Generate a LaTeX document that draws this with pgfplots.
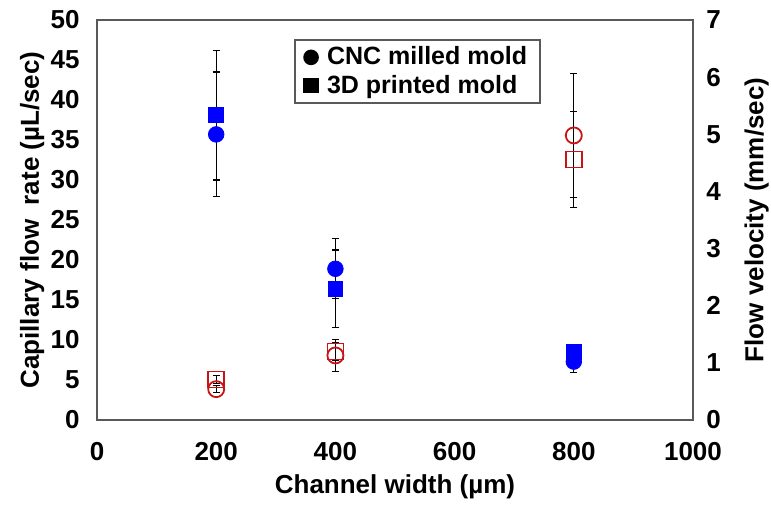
\documentclass[border=0pt]{standalone}
\usepackage{pgfplots}
\pgfplotsset{compat=1.18}
\usepackage{fontspec}
\setmainfont{Liberation Sans}
\definecolor{axgray}{RGB}{89,89,89}
\definecolor{myred}{RGB}{200,20,20}
\definecolor{myblue}{RGB}{0,0,255}
\begin{document}
\begin{tikzpicture}
\path[use as bounding box] (-48.5pt,-42pt) rectangle (337pt,210pt);
\pgfplotsset{
 common/.style={
  scale only axis, width=298pt, height=200pt,
  xmin=0, xmax=1000,
  major tick length=0pt,
  axis line style={axgray, line width=0.8pt},
  tick label style={font=\fontsize{13}{15}\selectfont\bfseries, inner sep=0pt},
  /pgf/number format/assume math mode=true,
  /pgf/number format/1000 sep={},
  label style={font=\fontsize{13}{15}\selectfont\bfseries},
 },
 ebar/.style={draw=none, mark=none, forget plot,
  error bars/.cd, y dir=both, y explicit,
  error bar style={draw=black, line width=0.6pt},
  error mark options={rotate=90, draw=black, mark size=1.8pt, line width=0.6pt}},
}
\begin{axis}[common,
  ymin=0, ymax=50, ytick={0,5,...,50}, xtick={0,200,...,1000},
  xticklabel style={anchor=center, yshift=-16pt},
  yticklabel style={anchor=east, xshift=-8.5pt},
  xlabel={Channel width (µm)},
  ylabel={Capillary flow~~rate (µL/sec)},
  xlabel style={at={(axis description cs:0.5,-0.1675)}, anchor=center},
  ylabel style={at={(axis description cs:-0.109,0.5)}, anchor=center},
  legend style={at={(axis description cs:0.331,0.9525)}, anchor=north west,
    draw=axgray, line width=0.8pt, fill=white,
    font=\fontsize{12.5}{14}\selectfont\bfseries,
    inner xsep=4.5pt, inner ysep=2pt, row sep=0.5pt,
    nodes={inner ysep=1.5pt},
    /tikz/every odd column/.append style={column sep=2.5pt},
    cells={anchor=west}},
  legend image code/.code={\path[#1] plot coordinates {(3.5pt,0pt)};},
]
\addplot[ebar] coordinates {(200,38.1) +- (0,8.1) (400,16.4) +- (0,4.85) (800,8.5) +- (0,0.6)};
\addplot[ebar] coordinates {(200,35.7) +- (0,7.8) (400,18.9) +- (0,3.75) (800,7.3) +- (0,1.4)};
\addplot[only marks, mark=square*, mark size=3.7pt, draw=myblue, fill=myblue, forget plot]
  coordinates {(200,38.1) (400,16.4) (800,8.5)};
\addplot[only marks, mark=*, mark size=3.9pt, draw=myblue, fill=myblue, forget plot]
  coordinates {(200,35.7) (400,18.9) (800,7.3)};
\addlegendimage{only marks, mark=*, black, mark size=3.5pt}
\addlegendentry{CNC milled mold}
\addlegendimage{only marks, mark=square*, black, mark size=3.4pt}
\addlegendentry{3D printed mold}
\end{axis}
\begin{axis}[common,
  ymin=0, ymax=7, ytick={0,1,...,7},
  hide x axis,
  axis y line*=right,
  yticklabel style={anchor=west, xshift=6.5pt},
  ylabel={Flow velocity (mm/sec)},
  ylabel style={at={(axis description cs:1.107,0.5)}, anchor=center},
]
\addplot[ebar] coordinates {(200,0.71) +- (0,0.07) (400,1.2) +- (0,0.15) (800,4.56) +- (0,0.84)};
\addplot[ebar] coordinates {(200,0.54) +- (0,0.06) (400,1.13) +- (0,0.28) (800,4.98) +- (0,1.08)};
\addplot[only marks, mark=square, mark size=4pt, draw=myred, line width=0.9pt]
  coordinates {(200,0.71) (400,1.2) (800,4.56)};
\addplot[only marks, mark=o, mark size=4pt, draw=myred, line width=0.9pt]
  coordinates {(200,0.54) (400,1.13) (800,4.98)};
\end{axis}
\end{tikzpicture}
\end{document}
